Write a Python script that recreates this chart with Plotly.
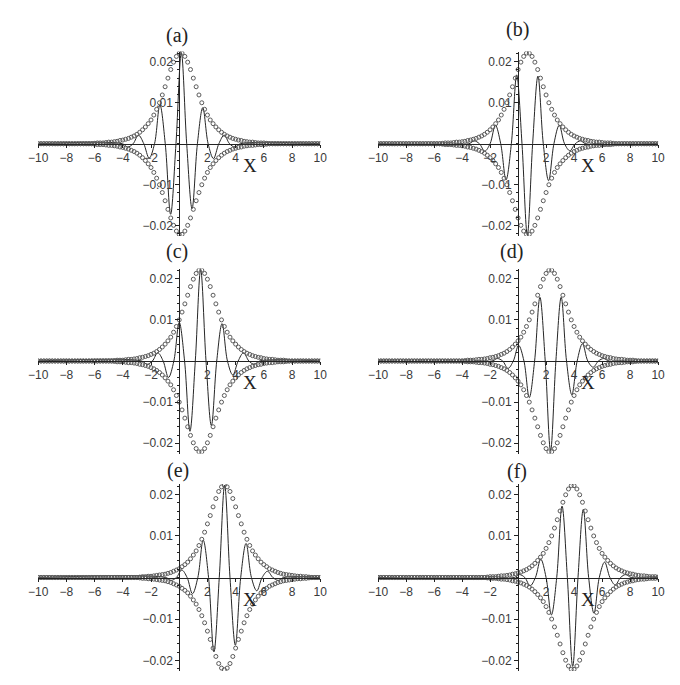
import plotly.graph_objects as go

# envelope sample positions (shared by all panels)
ENV_X = [
    -10.0, -9.8, -9.6, -9.4, -9.2, -9.0, -8.8, -8.6, -8.4, -8.2,
    -8.0, -7.8, -7.6, -7.4, -7.2, -7.0, -6.8, -6.6, -6.4, -6.2,
    -6.0, -5.8, -5.6, -5.4, -5.2, -5.0, -4.8, -4.6, -4.4, -4.2,
    -4.0, -3.8, -3.6, -3.4, -3.2, -3.0, -2.8, -2.6, -2.4, -2.2,
    -2.0, -1.8, -1.6, -1.4, -1.2, -1.0, -0.8, -0.6, -0.4, -0.2,
    0.0, 0.2, 0.4, 0.6, 0.8, 1.0, 1.2, 1.4, 1.6, 1.8,
    2.0, 2.2, 2.4, 2.6, 2.8, 3.0, 3.2, 3.4, 3.6, 3.8,
    4.0, 4.2, 4.4, 4.6, 4.8, 5.0, 5.2, 5.4, 5.6, 5.8,
    6.0, 6.2, 6.4, 6.6, 6.8, 7.0, 7.2, 7.4, 7.6, 7.8,
    8.0, 8.2, 8.4, 8.6, 8.8, 9.0, 9.2, 9.4, 9.6, 9.8,
    10.0,
]

# upper envelope (circles); lower envelope is its mirror
ENV_A = [
    0, 0, 0, 0, 0, 0, 0, 0, 0, 0,
    0, 0, 0, 0, 0, 0, 0, 0, 0, 0,
    .0001, .0002, .0002, .0002, .0003, .0004, .0004, .0005, .0006, .0008,
    .0009, .0011, .0013, .0016, .0019, .0023, .0028, .0034, .0041, .0049,
    .0058, .0070, .0084, .0100, .0119, .0139, .0160, .0181, .0199, .0213,
    .0221, .0221, .0213, .0199, .0181, .0160, .0139, .0119, .0100, .0084,
    .0070, .0058, .0049, .0041, .0034, .0028, .0023, .0019, .0016, .0013,
    .0011, .0009, .0008, .0006, .0005, .0004, .0004, .0003, .0002, .0002,
    .0002, .0001, 0, 0, 0, 0, 0, 0, 0, 0,
    0, 0, 0, 0, 0, 0, 0, 0, 0, 0,
    0,
]
ENV_B = [
    0, 0, 0, 0, 0, 0, 0, 0, 0, 0,
    0, 0, 0, 0, 0, 0, 0, 0, 0, 0,
    0, 0, 0, .0001, .0002, .0002, .0002, .0003, .0004, .0004,
    .0005, .0006, .0008, .0009, .0011, .0013, .0016, .0019, .0023, .0028,
    .0034, .0041, .0049, .0058, .0070, .0084, .0100, .0119, .0139, .0160,
    .0181, .0199, .0213, .0221, .0221, .0213, .0199, .0181, .0160, .0139,
    .0119, .0100, .0084, .0070, .0058, .0049, .0041, .0034, .0028, .0023,
    .0019, .0016, .0013, .0011, .0009, .0008, .0006, .0005, .0004, .0004,
    .0003, .0002, .0002, .0002, .0001, 0, 0, 0, 0, 0,
    0, 0, 0, 0, 0, 0, 0, 0, 0, 0,
    0,
]
ENV_C = [
    0, 0, 0, 0, 0, 0, 0, 0, 0, 0,
    0, 0, 0, 0, 0, 0, 0, 0, 0, 0,
    0, 0, 0, 0, 0, 0, 0, .0001, .0002, .0002,
    .0002, .0003, .0004, .0004, .0005, .0006, .0008, .0009, .0011, .0013,
    .0016, .0019, .0023, .0028, .0034, .0041, .0049, .0058, .0070, .0084,
    .0100, .0119, .0139, .0160, .0181, .0199, .0213, .0221, .0221, .0213,
    .0199, .0181, .0160, .0139, .0119, .0100, .0084, .0070, .0058, .0049,
    .0041, .0034, .0028, .0023, .0019, .0016, .0013, .0011, .0009, .0008,
    .0006, .0005, .0004, .0004, .0003, .0002, .0002, .0002, .0001, 0,
    0, 0, 0, 0, 0, 0, 0, 0, 0, 0,
    0,
]
ENV_D = [
    0, 0, 0, 0, 0, 0, 0, 0, 0, 0,
    0, 0, 0, 0, 0, 0, 0, 0, 0, 0,
    0, 0, 0, 0, 0, 0, 0, 0, 0, 0,
    0, .0001, .0002, .0002, .0002, .0003, .0004, .0004, .0005, .0006,
    .0008, .0009, .0011, .0013, .0016, .0019, .0023, .0028, .0034, .0041,
    .0049, .0058, .0070, .0084, .0100, .0119, .0139, .0160, .0181, .0199,
    .0213, .0221, .0221, .0213, .0199, .0181, .0160, .0139, .0119, .0100,
    .0084, .0070, .0058, .0049, .0041, .0034, .0028, .0023, .0019, .0016,
    .0013, .0011, .0009, .0008, .0006, .0005, .0004, .0004, .0003, .0002,
    .0002, .0002, .0001, 0, 0, 0, 0, 0, 0, 0,
    0,
]
ENV_E = [
    0, 0, 0, 0, 0, 0, 0, 0, 0, 0,
    0, 0, 0, 0, 0, 0, 0, 0, 0, 0,
    0, 0, 0, 0, 0, 0, 0, 0, 0, 0,
    0, 0, 0, 0, 0, 0, .0001, .0002, .0002, .0003,
    .0003, .0004, .0005, .0006, .0007, .0008, .0010, .0012, .0015, .0018,
    .0021, .0026, .0031, .0037, .0045, .0054, .0064, .0077, .0092, .0109,
    .0129, .0149, .0170, .0190, .0207, .0218, .0222, .0218, .0207, .0190,
    .0170, .0149, .0129, .0109, .0092, .0077, .0064, .0054, .0045, .0037,
    .0031, .0026, .0021, .0018, .0015, .0012, .0010, .0008, .0007, .0006,
    .0005, .0004, .0003, .0003, .0002, .0002, .0001, 0, 0, 0,
    0,
]
ENV_F = [
    0, 0, 0, 0, 0, 0, 0, 0, 0, 0,
    0, 0, 0, 0, 0, 0, 0, 0, 0, 0,
    0, 0, 0, 0, 0, 0, 0, 0, 0, 0,
    0, 0, 0, 0, 0, 0, 0, 0, 0, .0001,
    .0002, .0002, .0002, .0003, .0004, .0004, .0005, .0006, .0008, .0009,
    .0011, .0013, .0016, .0019, .0023, .0028, .0034, .0041, .0049, .0058,
    .0070, .0084, .0100, .0119, .0139, .0160, .0181, .0199, .0213, .0221,
    .0221, .0213, .0199, .0181, .0160, .0139, .0119, .0100, .0084, .0070,
    .0058, .0049, .0041, .0034, .0028, .0023, .0019, .0016, .0013, .0011,
    .0009, .0008, .0006, .0005, .0004, .0004, .0003, .0002, .0002, .0002,
    .0001,
]

# oscillating wave: extremes and zero crossings
WAVE_A_X = [-10, -4.03, -3.65, -3.27, -2.89, -2.51, -2.13, -1.75, -1.37, -0.99, -0.61, -0.23, 0.15,
            0.53, 0.91, 1.29, 1.67, 2.05, 2.43, 2.81, 3.19, 3.57, 3.95, 4.33, 10]
WAVE_A_Y = [0, 0, -0.0008, 0, 0.0021, 0, -0.0035, 0, 0.0095, 0, -0.0172, 0, 0.0222,
            0, -0.0158, 0, 0.0088, 0, -0.0036, 0, 0.0021, 0, -0.0008, 0, 0]
WAVE_B_X = [-10, -3.52, -3.14, -2.76, -2.38, -2.00, -1.62, -1.24, -0.86, -0.48, -0.10, 0.28, 0.66,
            1.04, 1.42, 1.80, 2.18, 2.56, 2.94, 3.32, 3.70, 4.08, 4.46, 4.84, 10]
WAVE_B_Y = [0, 0, 0.0007, 0, -0.0018, 0, 0.0045, 0, -0.0088, 0, 0.0168, 0, -0.0222,
            0, 0.0165, 0, -0.0090, 0, 0.0045, 0, -0.0017, 0, 0.0007, 0, 0]
WAVE_C_X = [-10, -2.66, -2.28, -1.90, -1.52, -1.14, -0.76, -0.38, 0, 0.38, 0.76, 1.14, 1.52,
            1.90, 2.28, 2.66, 3.04, 3.42, 3.80, 4.18, 4.56, 4.94, 5.32, 5.70, 10]
WAVE_C_Y = [0, 0, -0.0008, 0, 0.0020, 0, -0.0040, 0, 0.0094, 0, -0.0171, 0, 0.0222,
            0, -0.0157, 0, 0.0091, 0, -0.0034, 0, 0.0020, 0, -0.0008, 0, 0]
WAVE_D_X = [-10, -1.86, -1.48, -1.10, -0.72, -0.34, 0.04, 0.42, 0.80, 1.18, 1.56, 1.94, 2.32,
            2.70, 3.08, 3.46, 3.84, 4.22, 4.60, 4.98, 5.36, 5.74, 6.12, 6.50, 10]
WAVE_D_Y = [0, 0, 0.0006, 0, -0.0018, 0, 0.0038, 0, -0.0089, 0, 0.0155, 0, -0.0218,
            0, 0.0155, 0, -0.0082, 0, 0.0042, 0, -0.0015, 0, 0.0006, 0, 0]
WAVE_E_X = [-10, -0.96, -0.58, -0.20, 0.18, 0.56, 0.94, 1.32, 1.70, 2.08, 2.46, 2.84, 3.22,
            3.60, 3.98, 4.36, 4.74, 5.12, 5.50, 5.88, 6.26, 6.64, 7.02, 7.40, 10]
WAVE_E_Y = [0, 0, -0.0007, 0, 0.0018, 0, -0.0039, 0, 0.0090, 0, -0.0179, 0, 0.0222,
            0, -0.0163, 0, 0.0082, 0, -0.0032, 0, 0.0015, 0, -0.0007, 0, 0]
WAVE_F_X = [-10, -0.28, 0.10, 0.48, 0.86, 1.24, 1.62, 2.00, 2.38, 2.76, 3.14, 3.52, 3.90,
            4.28, 4.66, 5.04, 5.42, 5.80, 6.18, 6.56, 6.94, 7.32, 7.70, 8.08, 10]
WAVE_F_Y = [0, 0, 0.0007, 0, -0.0020, 0, 0.0044, 0, -0.0090, 0, 0.0172, 0, -0.0214,
            0, 0.0164, 0, -0.0086, 0, 0.0037, 0, -0.0018, 0, 0.0007, 0, 0]

PANEL_LABELS = ["(a)", "(b)", "(c)", "(d)", "(e)", "(f)"]
X_TICKS = [-10, -8, -6, -4, -2, 2, 4, 6, 8, 10]
Y_TICKS = [-0.02, -0.01, 0.01, 0.02]
Y_TICK_TEXT = ["\u22120.02", "\u22120.01", "0.01", "0.02"]

panels = [
    (ENV_A, WAVE_A_X, WAVE_A_Y),
    (ENV_B, WAVE_B_X, WAVE_B_Y),
    (ENV_C, WAVE_C_X, WAVE_C_Y),
    (ENV_D, WAVE_D_X, WAVE_D_Y),
    (ENV_E, WAVE_E_X, WAVE_E_Y),
    (ENV_F, WAVE_F_X, WAVE_F_Y),
]

W, H = 680, 685
col_px = [(20.7, 310.0), (369.3, 656.5)]
row_px = [(43.5, 228.0), (260.5, 445.5), (476.0, 663.0)]
title_px = [(163, 27), (512, 21), (163, 244), (506, 243), (164, 462), (512, 463)]

AX = "#222222"
TXT = "#3a3a3a"
tick_font = dict(family="Liberation Sans, Arial, sans-serif", size=12, color=TXT)
serif = "Liberation Serif, Times New Roman, serif"

fig = go.Figure()
layout = {}
annotations = []

for i, (env, wx, wy) in enumerate(panels):
    n = "" if i == 0 else str(i + 1)
    col, row = i % 2, i // 2
    x0, x1 = col_px[col][0] / W, col_px[col][1] / W
    y0, y1 = 1 - row_px[row][1] / H, 1 - row_px[row][0] / H

    fig.add_trace(go.Scatter(
        x=wx, y=wy, mode="lines", line=dict(color="#262626", width=1, shape="spline", smoothing=1.0),
        xaxis="x" + n, yaxis="y" + n, showlegend=False, hoverinfo="skip",
    ))
    for sign in (1, -1):
        fig.add_trace(go.Scatter(
            x=ENV_X, y=[sign * v for v in env], mode="markers",
            marker=dict(symbol="circle-open", size=4, color="#5a5a5a", line=dict(width=1)),
            xaxis="x" + n, yaxis="y" + n, showlegend=False, hoverinfo="skip",
        ))

    layout["xaxis" + n] = dict(
        domain=[x0, x1], range=[-10, 10], anchor="free", position=(y0 + y1) / 2,
        showline=True, linecolor=AX, linewidth=1, ticks="outside", ticklen=3, tickcolor=AX,
        tickvals=X_TICKS, tickfont=tick_font, showgrid=False, zeroline=False,
    )
    layout["yaxis" + n] = dict(
        domain=[y0, y1], range=[-0.0225, 0.0225], anchor="free", position=(x0 + x1) / 2,
        showline=True, linecolor=AX, linewidth=1, ticks="outside", ticklen=4, tickcolor=AX,
        tickvals=Y_TICKS, ticktext=Y_TICK_TEXT, tickfont=tick_font, showgrid=False, zeroline=False,
        minor=dict(ticks="outside", ticklen=2, dtick=0.002, tickcolor=AX, showgrid=False),
    )

    tx, ty = title_px[i]
    annotations.append(dict(
        x=tx / W, y=1 - ty / H, xref="paper", yref="paper", text=PANEL_LABELS[i],
        showarrow=False, font=dict(family=serif, size=20, color=AX), xanchor="center", yanchor="middle",
    ))
    annotations.append(dict(
        x=5.0, y=-0.0053, xref="x" + n, yref="y" + n, text="X",
        showarrow=False, font=dict(family=serif, size=19, color=AX), xanchor="center", yanchor="middle",
    ))

fig.update_layout(
    width=W, height=H, margin=dict(l=0, r=0, t=0, b=0),
    paper_bgcolor="white", plot_bgcolor="white",
    annotations=annotations, **layout,
)

fig.write_html("out.html")
